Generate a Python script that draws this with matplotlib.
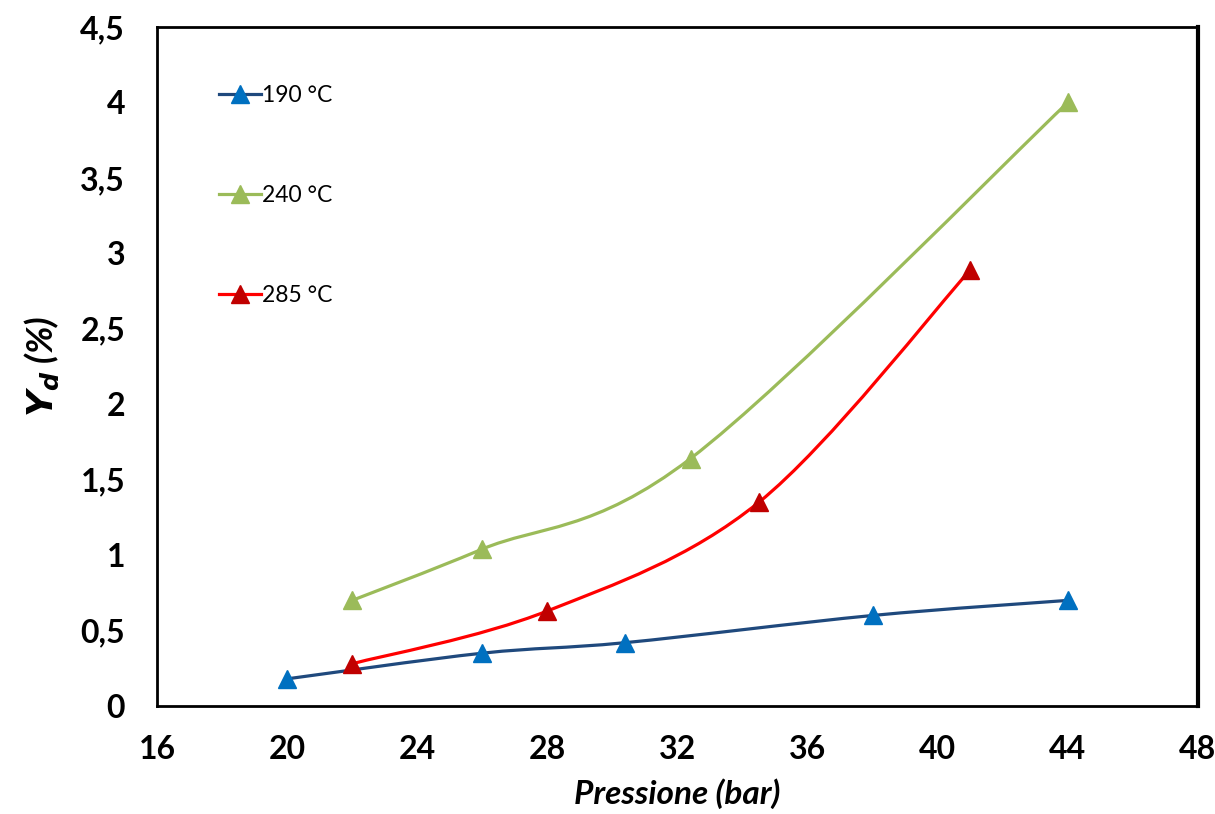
import numpy as np
import matplotlib.pyplot as plt
from matplotlib.path import Path
from matplotlib.patches import PathPatch
from matplotlib.lines import Line2D
from matplotlib.ticker import MultipleLocator, FuncFormatter

# values
P_190 = [20, 26, 30.4, 38, 44]
Y_190 = [0.18, 0.35, 0.42, 0.60, 0.70]
P_240 = [22, 26, 32.4, 44]
Y_240 = [0.70, 1.04, 1.64, 4.00]
P_285 = [22, 28, 34.5, 41]
Y_285 = [0.28, 0.63, 1.35, 2.89]

SERIES = [
    ("190 °C", P_190, Y_190, "#1F497D", "#0070C0"),
    ("240 °C", P_240, Y_240, "#9BBB59", "#9BBB59"),
    ("285 °C", P_285, Y_285, "#FF0000", "#C00000"),
]

plt.rcParams["font.family"] = ["Lato", "DejaVu Sans"]


def smooth_path(xs, ys):
    # Excel-like smoothed line: cubic Bezier segments, Catmull-Rom control points
    pts = np.column_stack([xs, ys]).astype(float)
    n = len(pts)
    verts = [pts[0]]
    codes = [Path.MOVETO]
    for i in range(n - 1):
        p0 = pts[max(i - 1, 0)]
        p1, p2 = pts[i], pts[i + 1]
        p3 = pts[min(i + 2, n - 1)]
        verts += [p1 + (p2 - p0) / 6, p2 - (p3 - p1) / 6, p2]
        codes += [Path.CURVE4] * 3
    return Path(verts, codes)


fig = plt.figure(figsize=(12.15, 8.14), dpi=100)
ax = fig.add_axes([157 / 1215, 108 / 814, 1041 / 1215, 679 / 814])

handles = []
for label, xs, ys, lc, mc in SERIES:
    ax.add_patch(PathPatch(smooth_path(xs, ys), facecolor="none", edgecolor=lc, lw=2.3, zorder=2))
    ax.plot(xs, ys, ls="none", marker="^", ms=12.5, color=mc, zorder=3)
    handles.append(Line2D([], [], color=lc, lw=2.3, marker="^", ms=12.5, mfc=mc, mec=mc))

ax.set_xlim(16, 48)
ax.set_ylim(0, 4.5)
ax.xaxis.set_major_locator(MultipleLocator(4))
ax.yaxis.set_major_locator(MultipleLocator(0.5))
ax.yaxis.set_major_formatter(FuncFormatter(lambda v, _: f"{v:g}".replace(".", ",")))
ax.tick_params(length=0, labelsize=23)
ax.tick_params(axis="x", pad=21)
ax.tick_params(axis="y", pad=23)
for lab in ax.get_xticklabels() + ax.get_yticklabels():
    lab.set_fontweight("bold")
for s in ax.spines.values():
    s.set_linewidth(2)
    s.set_color("black")
ax.spines["right"].set_linewidth(3)

ax.set_xlabel("Pressione (bar)", fontsize=24, fontweight="bold", fontstyle="italic", labelpad=10)
ax.set_ylabel(r"$\mathbfit{Y_d}$ (%)", fontsize=26, fontweight="bold", fontstyle="italic", labelpad=14)

ax.legend(handles, [s[0] for s in SERIES], loc="upper left", bbox_to_anchor=(0.06, 0.915),
          frameon=False, fontsize=16.5, labelspacing=3.45, handlelength=1.8, handletextpad=0.05,
          borderpad=0, borderaxespad=0)

fig.savefig("out.png", dpi=100)
